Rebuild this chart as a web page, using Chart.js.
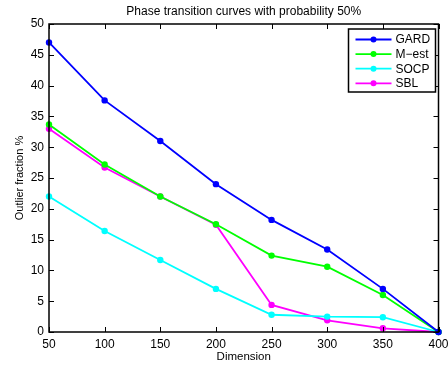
<!DOCTYPE html>
<html lang="en">
<head>
    <meta charset="UTF-8">
    <title>Phase transition curves</title>
    <script src="https://cdn.jsdelivr.net/npm/chart.js"></script>
    <style>
        html, body { margin: 0; padding: 0; background: #fff; }
        #wrap { width: 448px; height: 367px; }
    </style>
</head>
<body>
    <div id="wrap"><canvas id="phaseChart" width="448" height="367"></canvas></div>

    <script>
        // data
        const dims = [50, 100, 150, 200, 250, 300, 350, 400];
        const gard = [47, 37.6, 31, 24, 18.2, 13.4, 7, 0];
        const mest = [33.7, 27.2, 22, 17.5, 12.4, 10.6, 6, 0];
        const socp = [22, 16.4, 11.7, 7, 2.8, 2.5, 2.4, 0];
        const sbl = [33, 26.7, 22, 17.4, 4.4, 1.9, 0.6, 0];

        const seriesNames = ['GARD', 'M\u2212est', 'SOCP', 'SBL'];
        const seriesValues = [gard, mest, socp, sbl];
        const seriesColors = ['#0000ff', '#00ff00', '#00ffff', '#ff00ff'];

        const FONT = 'Liberation Sans, Arial, sans-serif';

        // box around the axes with ticks pointing inward (matlab style)
        const boxTicks = {
            id: 'boxTicks',
            afterDraw(chart) {
                const { ctx, chartArea: a, scales } = chart;
                ctx.save();
                ctx.strokeStyle = '#000';
                ctx.lineWidth = 1;
                ctx.beginPath();
                scales.x.ticks.forEach(t => {
                    const px = Math.round(scales.x.getPixelForValue(t.value)) + 0.5;
                    ctx.moveTo(px, a.bottom); ctx.lineTo(px, a.bottom - 5);
                    ctx.moveTo(px, a.top); ctx.lineTo(px, a.top + 5);
                });
                scales.y.ticks.forEach(t => {
                    const py = Math.round(scales.y.getPixelForValue(t.value)) + 0.5;
                    ctx.moveTo(a.left, py); ctx.lineTo(a.left + 5, py);
                    ctx.moveTo(a.right, py); ctx.lineTo(a.right - 5, py);
                });
                ctx.stroke();
                ctx.lineWidth = 1.5;
                ctx.strokeRect(a.left, a.top, a.right - a.left, a.bottom - a.top);
                ctx.restore();
            }
        };

        // legend box in the upper right corner of the plot
        const boxLegend = {
            id: 'boxLegend',
            afterDraw(chart) {
                const { ctx, chartArea: a } = chart;
                const w = 87, h = 63, rowH = 14.6;
                const x0 = a.right - 3 - w, y0 = a.top + 5;
                ctx.save();
                ctx.fillStyle = '#fff';
                ctx.fillRect(x0, y0, w, h);
                ctx.strokeStyle = '#000';
                ctx.lineWidth = 1.5;
                ctx.strokeRect(x0, y0, w, h);
                ctx.font = '12px ' + FONT;
                ctx.textBaseline = 'middle';
                chart.data.datasets.forEach((ds, i) => {
                    const y = y0 + 10.5 + i * rowH;
                    ctx.strokeStyle = ds.borderColor;
                    ctx.lineWidth = 1.8;
                    ctx.beginPath();
                    ctx.moveTo(x0 + 7, y); ctx.lineTo(x0 + 43, y);
                    ctx.stroke();
                    ctx.fillStyle = ds.borderColor;
                    ctx.beginPath();
                    ctx.arc(x0 + 25, y, 3, 0, Math.PI * 2);
                    ctx.fill();
                    ctx.fillStyle = '#000';
                    ctx.fillText(ds.label, x0 + 47, y + 0.5);
                });
                ctx.restore();
            }
        };

        const datasets = seriesNames.map((name, i) => ({
            label: name,
            data: dims.map((d, j) => ({ x: d, y: seriesValues[i][j] })),
            borderColor: seriesColors[i],
            backgroundColor: seriesColors[i],
            borderWidth: 1.8,
            pointRadius: 3.2,
            pointBorderWidth: 0,
            tension: 0,
            clip: false
        }));

        new Chart(document.getElementById('phaseChart'), {
            type: 'line',
            data: { datasets },
            options: {
                responsive: false,
                animation: false,
                layout: { padding: { left: 0, right: 9.5, top: 0, bottom: 0 } },
                plugins: {
                    legend: { display: false },
                    tooltip: { enabled: false },
                    title: {
                        display: true,
                        fullSize: false,
                        text: 'Phase transition curves with probability 50%',
                        color: '#000',
                        font: { family: FONT, size: 12, weight: 'normal' },
                        padding: { top: 4.5, bottom: 5.1 }
                    }
                },
                scales: {
                    x: {
                        type: 'linear',
                        min: 50,
                        max: 400,
                        grid: { display: false, drawTicks: false },
                        border: { display: false },
                        ticks: { stepSize: 50, color: '#000', padding: 5, maxRotation: 0,
                                 font: { family: FONT, size: 12 } },
                        title: { display: true, text: 'Dimension', color: '#000',
                                 font: { family: FONT, size: 11.5 }, padding: { top: 0, bottom: 3.5 } },
                        afterFit(s) { s.height = 35; s.paddingLeft = 0; s.paddingRight = 0; }
                    },
                    y: {
                        min: 0,
                        max: 50,
                        grid: { display: false, drawTicks: false },
                        border: { display: false },
                        ticks: { stepSize: 5, color: '#000', padding: 5,
                                 font: { family: FONT, size: 12 } },
                        title: { display: true, text: 'Outlier fraction %', color: '#000',
                                 font: { family: FONT, size: 11 }, padding: { top: 13.4, bottom: 0 } },
                        afterFit(s) { s.width = 49; }
                    }
                }
            },
            plugins: [boxTicks, boxLegend]
        });
    </script>
</body>
</html>
